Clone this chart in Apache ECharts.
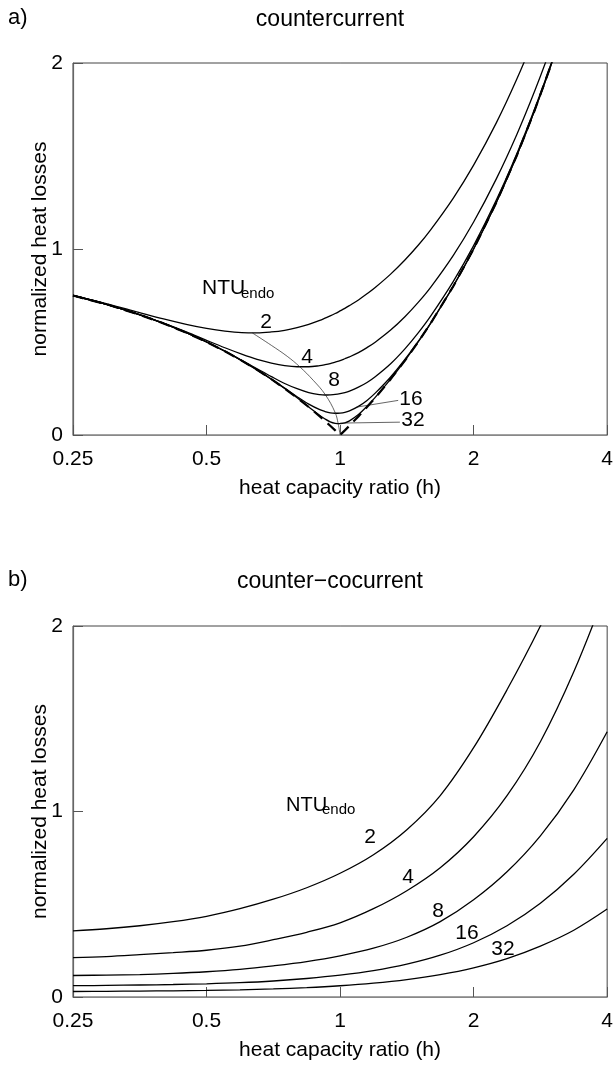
<!DOCTYPE html>
<html>
<head>
<meta charset="utf-8">
<script src="https://cdn.jsdelivr.net/npm/echarts@6/dist/echarts.min.js"></script>
<style>
html,body{margin:0;padding:0;background:#fff;}
#c{width:616px;height:1066px;}
</style>
</head>
<body>
<div id="c"></div>
<script>
// ---------- data ----------
const xTickLabels = [0.25, 0.5, 1, 2, 4];
const yTickLabels = [0, 1, 2];
const ntuLabels = ['2', '4', '8', '16', '32'];

// panel a: countercurrent
const hA = [0.25, 0.3, 0.35, 0.4, 0.45, 0.5, 0.55, 0.6, 0.65, 0.7, 0.75, 0.8, 0.85, 0.9, 0.925, 0.95, 0.975, 1, 1.025, 1.05, 1.1, 1.15, 1.2, 1.3, 1.4, 1.5, 1.6, 1.8, 2, 2.25, 2.5, 2.75, 3, 3.25];
const a2  = [0.751, 0.704, 0.661, 0.624, 0.595, 0.573, 0.558, 0.550, 0.549, 0.554, 0.563, 0.577, 0.595, 0.616, 0.628, 0.640, 0.653, 0.667, 0.681, 0.696, 0.726, 0.759, 0.793, 0.865, 0.941, 1.020, 1.103, 1.274, 1.451, 1.678, 1.911, 2.147, 2.385, 2.626];
const a4  = [0.750, 0.700, 0.650, 0.601, 0.554, 0.509, 0.469, 0.435, 0.407, 0.387, 0.373, 0.367, 0.367, 0.373, 0.378, 0.384, 0.392, 0.400, 0.410, 0.420, 0.443, 0.470, 0.499, 0.564, 0.636, 0.713, 0.794, 0.966, 1.145, 1.377, 1.613, 1.853, 2.095, 2.339];
const a8  = [0.750, 0.700, 0.650, 0.600, 0.550, 0.500, 0.451, 0.402, 0.356, 0.314, 0.277, 0.249, 0.228, 0.217, 0.215, 0.216, 0.218, 0.222, 0.228, 0.236, 0.257, 0.282, 0.313, 0.383, 0.463, 0.549, 0.639, 0.826, 1.018, 1.263, 1.510, 1.758, 2.006, 2.255];
const a16 = [0.750, 0.700, 0.650, 0.600, 0.550, 0.500, 0.450, 0.400, 0.350, 0.300, 0.252, 0.206, 0.166, 0.136, 0.126, 0.119, 0.117, 0.118, 0.122, 0.130, 0.154, 0.186, 0.225, 0.312, 0.406, 0.503, 0.602, 0.801, 1.000, 1.250, 1.500, 1.750, 2.000, 2.250];
const a32 = [0.750, 0.700, 0.650, 0.600, 0.550, 0.500, 0.450, 0.400, 0.350, 0.300, 0.250, 0.200, 0.151, 0.105, 0.086, 0.071, 0.063, 0.061, 0.065, 0.076, 0.110, 0.154, 0.202, 0.300, 0.400, 0.500, 0.600, 0.800, 1.000, 1.250, 1.500, 1.750, 2.000, 2.250];
const aLimit = [0.75, 0.7, 0.65, 0.6, 0.55, 0.5, 0.45, 0.4, 0.35, 0.3, 0.25, 0.2, 0.15, 0.1, 0.075, 0.05, 0.025, 0, 0.025, 0.05, 0.1, 0.15, 0.2, 0.3, 0.4, 0.5, 0.6, 0.8, 1, 1.25, 1.5, 1.75, 2, 2.25];
// locus of the minima (thin line)
const locusH = [0.634, 0.7, 0.76, 0.811, 0.87, 0.926, 0.975, 0.99, 1.0];
const locusV = [0.549, 0.482, 0.423, 0.367, 0.294, 0.217, 0.120, 0.061, 0.0];
// leader lines for labels 16 and 32
const lead16H = [1.09, 1.352], lead16V = [0.150, 0.186];
const lead32H = [1.0, 1.364],  lead32V = [0.064, 0.069];

// panel b: counter-cocurrent
const hB = [0.25, 0.2973, 0.3536, 0.4204, 0.5, 0.5946, 0.7071, 0.8409, 1, 1.1892, 1.4142, 1.6818, 2, 2.3784, 2.8284, 3.3636, 4];
const b2  = [0.357, 0.368, 0.384, 0.406, 0.435, 0.476, 0.527, 0.589, 0.667, 0.767, 0.902, 1.086, 1.344, 1.656, 2.0, 2.383, 2.787];
const b4  = [0.212, 0.218, 0.228, 0.239, 0.252, 0.274, 0.309, 0.349, 0.400, 0.476, 0.573, 0.697, 0.864, 1.085, 1.376, 1.753, 2.206];
const b8  = [0.116, 0.118, 0.121, 0.127, 0.136, 0.149, 0.168, 0.191, 0.222, 0.263, 0.322, 0.406, 0.524, 0.675, 0.869, 1.117, 1.43];
const b16 = [0.0609, 0.0625, 0.0647, 0.0673, 0.0711, 0.0770, 0.0862, 0.0997, 0.1175, 0.1417, 0.1767, 0.2252, 0.2926, 0.3842, 0.5054, 0.6616, 0.8551];
const b32 = [0.0296, 0.0307, 0.0318, 0.0334, 0.0356, 0.0388, 0.0436, 0.0506, 0.0606, 0.0746, 0.094, 0.121, 0.1576, 0.2072, 0.2745, 0.360, 0.474];

// ---------- chart ----------
const FONT = '"Liberation Sans", Arial, Helvetica, sans-serif';
const zip = (xs, ys) => xs.map((x, i) => [x, ys[i]]);

function xAxisCfg(gi) {
  return {
    type: 'log', logBase: 2, min: xTickLabels[0], max: xTickLabels[xTickLabels.length - 1],
    gridIndex: gi,
    name: 'heat capacity ratio (h)', nameLocation: 'middle', nameGap: 43,
    nameTextStyle: { fontSize: 21, color: '#000', fontFamily: FONT },
    axisLine: { show: true, lineStyle: { color: '#888', width: 1.2 } },
    axisTick: { show: true, inside: true, length: 10, lineStyle: { color: '#555', width: 1 } },
    axisLabel: { fontSize: 21, color: '#000', margin: 14, fontFamily: FONT,
      formatter: v => String(xTickLabels.reduce((b, t) => Math.abs(t - v) < Math.abs(b - v) ? t : b, xTickLabels[0])) },
    splitLine: { show: false }
  };
}
function yAxisCfg(gi) {
  return {
    type: 'value', min: yTickLabels[0], max: yTickLabels[yTickLabels.length - 1], interval: 1,
    gridIndex: gi,
    name: 'normalized heat losses', nameLocation: 'middle', nameGap: 22, nameMoveOverlap: false,
    nameTextStyle: { fontSize: 21, color: '#000', fontFamily: FONT },
    axisLine: { show: true, lineStyle: { color: '#666', width: 1.2 } },
    axisTick: { show: true, inside: true, length: 10, lineStyle: { color: '#555', width: 1 } },
    axisLabel: { fontSize: 21, color: '#000', margin: 10, fontFamily: FONT },
    splitLine: { show: false }
  };
}
function curve(xs, ys, gi, extra) {
  return Object.assign({
    type: 'line', xAxisIndex: gi, yAxisIndex: gi, data: zip(xs, ys),
    showSymbol: false, symbol: 'none', smooth: 0.35, clip: true,
    lineStyle: { color: '#000', width: 1.3 }, silent: true, z: 3
  }, extra || {});
}
function txt(text, x, y, size, align, extra) {
  return {
    type: 'text', x: x, y: y, silent: true, z: 10,
    style: Object.assign({
      text: text, fill: '#000', font: size + 'px ' + FONT,
      textAlign: align || 'center', align: align || 'center',
      textVerticalAlign: 'middle', verticalAlign: 'middle'
    }, extra || {})
  };
}

const chart = echarts.init(document.getElementById('c'), null, { renderer: 'canvas' });
const aCurves = [a2, a4, a8, a16, a32];
const bCurves = [b2, b4, b8, b16, b32];
const series = [];
aCurves.forEach(arr => series.push(curve(hA, arr, 0)));
series.push(curve(hA, aLimit, 0, { smooth: false, lineStyle: { color: '#000', width: 2.2, type: [11, 7] }, z: 4 }));
series.push(curve(locusH, locusV, 0, { smooth: 0.4, lineStyle: { color: '#222', width: 0.7 } }));
series.push(curve(lead16H, lead16V, 0, { smooth: false, lineStyle: { color: '#222', width: 0.7 } }));
series.push(curve(lead32H, lead32V, 0, { smooth: false, lineStyle: { color: '#222', width: 0.7 } }));
bCurves.forEach(arr => series.push(curve(hB, arr, 1)));

chart.setOption({
  animation: false,
  backgroundColor: '#fff',
  grid: [
    { left: 73, top: 63, width: 537, height: 372, show: true, borderColor: '#444', borderWidth: 1, containLabel: false },
    { left: 73, top: 626, width: 537, height: 371, show: true, borderColor: '#444', borderWidth: 1, containLabel: false }
  ],
  xAxis: [xAxisCfg(0), xAxisCfg(1)],
  yAxis: [yAxisCfg(0), yAxisCfg(1)],
  series: series,
  graphic: [
    txt('a)', 8, 18, 22, 'left'),
    txt('countercurrent', 330, 20, 23),
    txt('b)', 8, 580, 22, 'left'),
    txt('counter\u2212cocurrent', 330, 582, 23),
    // panel a labels
    txt('NTU', 202, 288, 21, 'left'),
    txt('endo', 241, 294, 15, 'left'),
    txt(ntuLabels[0], 266, 322, 21),
    txt(ntuLabels[1], 307, 357, 21),
    txt(ntuLabels[2], 334, 380, 21),
    txt(ntuLabels[3], 411, 399, 21),
    txt(ntuLabels[4], 413, 420, 21),
    // panel b labels
    txt('NTU', 286, 805, 20, 'left'),
    txt('endo', 322, 810, 15, 'left'),
    txt(ntuLabels[0], 370, 837, 21),
    txt(ntuLabels[1], 408, 877, 21),
    txt(ntuLabels[2], 438, 911, 21),
    txt(ntuLabels[3], 467, 933, 21),
    txt(ntuLabels[4], 503, 949, 21)
  ]
});
</script>
</body>
</html>
